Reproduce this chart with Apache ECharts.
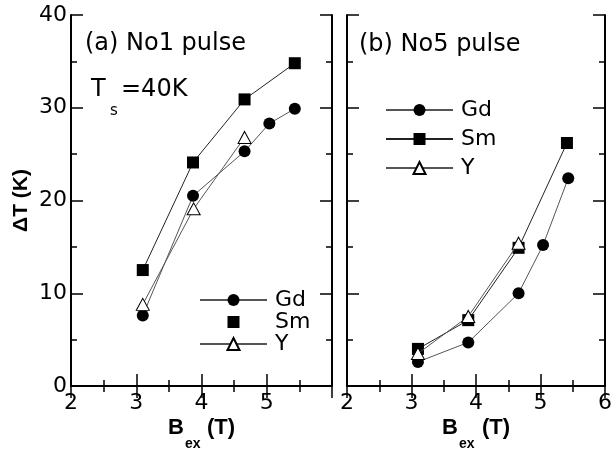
<!DOCTYPE html>
<html>
<head>
<meta charset="utf-8">
<script src="https://cdn.jsdelivr.net/npm/echarts@6/dist/echarts.min.js"></script>
<style>
  html, body { margin: 0; padding: 0; background: #fff; }
  #chart { width: 615px; height: 450px; }
</style>
</head>
<body>
<div id="chart"></div>
<script>
// (a) No1 pulse
const gdA_x = [3.10, 3.87, 4.66, 5.04, 5.43];
const gdA_y = [7.6, 20.5, 25.3, 28.3, 29.9];
const smA_x = [3.10, 3.87, 4.66, 5.43];
const smA_y = [12.5, 24.1, 30.9, 34.8];
const yA_x = [3.10, 3.88, 4.66];
const yA_y = [8.8, 19.1, 26.8];

// (b) No5 pulse
const gdB_x = [3.10, 3.88, 4.66, 5.04, 5.43];
const gdB_y = [2.6, 4.7, 10.0, 15.2, 22.4];
const smB_x = [3.10, 3.88, 4.66, 5.41];
const smB_y = [4.0, 7.1, 14.9, 26.2];
const yB_x = [3.10, 3.88, 4.66];
const yB_y = [3.5, 7.5, 15.4];

const xMin = 2, xMax = 6, xStep = 1;
const yMin = 0, yMax = 40, yStep = 10;

const FONT = '"DejaVu Sans", sans-serif';
const BOLD = '"Liberation Sans", Arial, sans-serif';

function pairs(xs, ys) {
  return xs.map((x, i) => [x, ys[i]]);
}

// 坐标轴（四边都有刻度，朝内）
function xAxisOf(grid, pos, showLabel, showMax) {
  return {
    type: 'value', gridIndex: grid, position: pos,
    min: xMin, max: xMax, interval: xStep,
    axisLine: { show: true, lineStyle: { color: '#000', width: 2 } },
    axisTick: { show: true, inside: true, length: 12, lineStyle: { color: '#000', width: 1.5 } },
    minorTick: { show: true, splitNumber: 2, length: 6, lineStyle: { color: '#000', width: 1.5 } },
    splitLine: { show: false },
    axisLabel: {
      show: showLabel, color: '#000', fontSize: 22, fontFamily: FONT, margin: 6,
      showMaxLabel: showMax
    }
  };
}

function yAxisOf(grid, pos, showLabel, name) {
  return {
    type: 'value', gridIndex: grid, position: pos,
    min: yMin, max: yMax, interval: yStep,
    name: name || '',
    nameLocation: 'middle', nameGap: 39, nameRotate: 90,
    nameTextStyle: { color: '#000', fontSize: 21, fontWeight: 'bold', fontFamily: BOLD },
    axisLine: { show: true, lineStyle: { color: '#000', width: 2 } },
    axisTick: { show: true, inside: true, length: 12, lineStyle: { color: '#000', width: 1.5 } },
    minorTick: { show: true, splitNumber: 2, length: 6, lineStyle: { color: '#000', width: 1.5 } },
    splitLine: { show: false },
    axisLabel: { show: showLabel, color: '#000', fontSize: 22, fontFamily: FONT, margin: 4 }
  };
}

const styles = {
  Gd: { symbol: 'circle', symbolSize: 12, itemStyle: { color: '#000' }, lineStyle: { color: '#555', width: 1 } },
  Sm: { symbol: 'rect', symbolSize: 12, itemStyle: { color: '#000' }, lineStyle: { color: '#222', width: 1 } },
  Y: { symbol: 'triangle', symbolSize: [13, 12], itemStyle: { color: '#fff', borderColor: '#000', borderWidth: 1 }, lineStyle: { color: '#555', width: 1 } }
};

function line(name, axis, xs, ys) {
  return Object.assign({
    name: name, type: 'line', xAxisIndex: axis, yAxisIndex: axis,
    data: pairs(xs, ys), animation: false, z: name === 'Y' ? 4 : 3
  }, styles[name]);
}

const legendText = { color: '#000', fontSize: 22, fontFamily: FONT, lineHeight: 22, padding: [0, 0, 0, 3] };

const myChart = echarts.init(document.getElementById('chart'));

const option = {
  animation: false,
  grid: [
    { left: 71, top: 15, width: 261, height: 371 },
    { left: 347, top: 15, width: 261, height: 371 }
  ],
  xAxis: [
    xAxisOf(0, 'bottom', true, false),
    xAxisOf(1, 'bottom', true, true),
    xAxisOf(0, 'top', false, false),
    xAxisOf(1, 'top', false, false)
  ],
  yAxis: [
    yAxisOf(0, 'left', true, 'ΔT (K)'),
    yAxisOf(1, 'left', false),
    yAxisOf(0, 'right', false),
    yAxisOf(1, 'right', false)
  ],
  legend: [
    {
      orient: 'vertical', left: 199, top: 289, padding: 0,
      itemWidth: 67, itemHeight: 15, itemGap: 0,
      textStyle: legendText,
      data: ['Gd', { name: 'Sm', lineStyle: { opacity: 0 } }, 'Y']
    },
    {
      orient: 'vertical', left: 385, top: 99, padding: 0,
      itemWidth: 67, itemHeight: 15, itemGap: 7,
      textStyle: legendText,
      data: ['Gd', 'Sm', 'Y']
    }
  ],
  graphic: [
    { type: 'text', left: 85, top: 32, style: { text: '(a) No1 pulse', fontSize: 24, fontFamily: FONT, fill: '#000' } },
    { type: 'text', left: 359, top: 33, style: { text: '(b) No5 pulse', fontSize: 24, fontFamily: FONT, fill: '#000' } },
    { type: 'text', left: 91, top: 78, style: { text: 'T', fontSize: 24, fontFamily: FONT, fill: '#000' } },
    { type: 'text', left: 110, top: 104, style: { text: 's', fontSize: 15, fontFamily: FONT, fill: '#000' } },
    { type: 'text', left: 121, top: 78, style: { text: '=40K', fontSize: 24, fontFamily: FONT, fill: '#000' } },
    // x 轴标题 B_ex (T)
    { type: 'text', left: 168, top: 417, style: { text: 'B', fontSize: 22, fontWeight: 'bold', fontFamily: BOLD, fill: '#000' } },
    { type: 'text', left: 185, top: 437, style: { text: 'ex', fontSize: 14, fontWeight: 'bold', fontFamily: BOLD, fill: '#000' } },
    { type: 'text', left: 207, top: 417, style: { text: '(T)', fontSize: 22, fontWeight: 'bold', fontFamily: BOLD, fill: '#000' } },
    { type: 'text', left: 442, top: 417, style: { text: 'B', fontSize: 22, fontWeight: 'bold', fontFamily: BOLD, fill: '#000' } },
    { type: 'text', left: 459, top: 437, style: { text: 'ex', fontSize: 14, fontWeight: 'bold', fontFamily: BOLD, fill: '#000' } },
    { type: 'text', left: 482, top: 417, style: { text: '(T)', fontSize: 22, fontWeight: 'bold', fontFamily: BOLD, fill: '#000' } }
  ],
  series: [
    line('Gd', 0, gdA_x, gdA_y),
    line('Sm', 0, smA_x, smA_y),
    line('Y', 0, yA_x, yA_y),
    line('Gd', 1, gdB_x, gdB_y),
    line('Sm', 1, smB_x, smB_y),
    line('Y', 1, yB_x, yB_y)
  ]
};

option && myChart.setOption(option);
</script>
</body>
</html>
